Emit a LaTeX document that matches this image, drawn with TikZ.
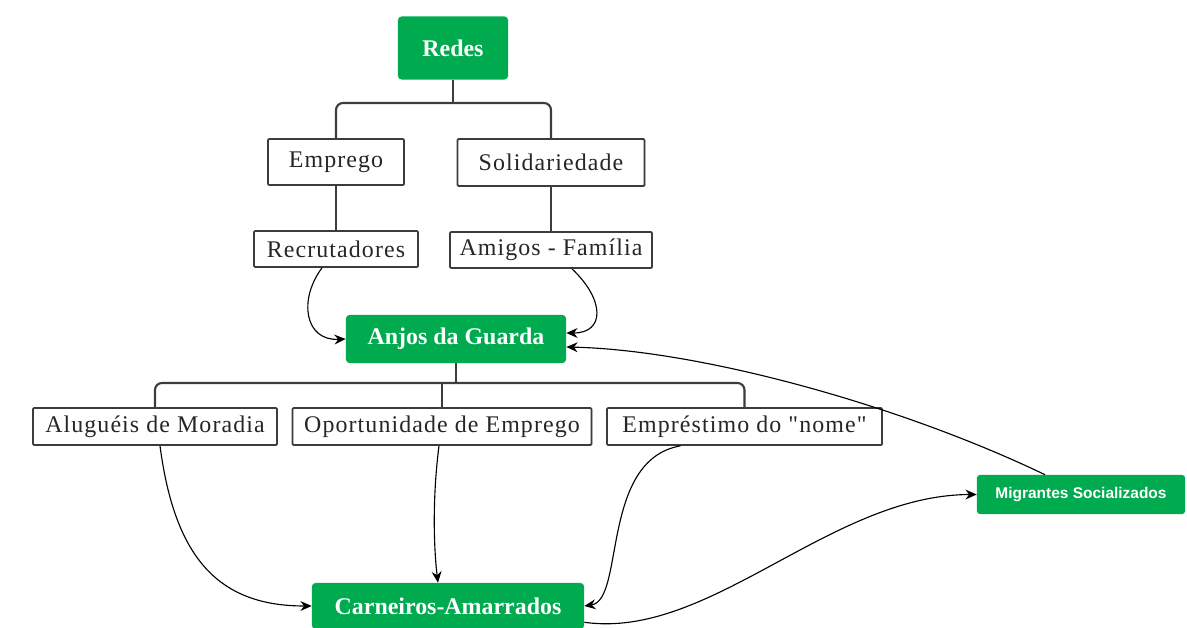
\documentclass[tikz,border=0pt]{standalone}
\usepackage{fontspec}
\setmainfont{Liberation Serif}
\newfontfamily\espacada[LetterSpace=4.6]{Liberation Serif}
\newfontfamily\semserifa{Liberation Sans}
\usetikzlibrary{arrows.meta,shadows,calc}
\definecolor{verde}{RGB}{0,171,80}
\definecolor{borda}{RGB}{60,60,60}
\tikzset{
  caixa/.style={draw=borda, line width=1.2pt, fill=white, text=black!85, inner sep=0pt,
    rounded corners=0.8pt, font=\espacada\fontsize{17}{20}\selectfont,
    drop shadow={shadow xshift=0.6pt, shadow yshift=-0.6pt, fill=black!45}},
  destaque/.style={fill=verde, text=white, inner sep=0pt, rounded corners=2.5pt,
    font=\bfseries\fontsize{17}{20}\selectfont},
  ramo/.style={draw=borda, line width=1.5pt, rounded corners=5pt},
  seta/.style={-{Stealth[length=8pt,width=7pt]}, line width=0.8pt, black},
}
\begin{document}
\begin{tikzpicture}[x=0.025cm, y=-0.025cm]
  \useasboundingbox (0,0) rectangle (1187,628);

  % Redes e ramos de cima
  \node[destaque, minimum width=2.75cm, minimum height=1.575cm] (redes) at (453,48) {Redes};
  \node[caixa, minimum width=3.4cm, minimum height=1.15cm] (emprego) at (336,162) {Emprego};
  \node[caixa, minimum width=4.675cm, minimum height=1.175cm] (solid) at (551,162.5) {Solidariedade};
  \node[caixa, minimum width=4.1cm, minimum height=0.9cm] (recrut) at (336,249) {Recrutadores};
  \node[caixa, minimum width=5.05cm, minimum height=0.9cm] (amigos) at (551,250) {Amigos - Família};

  \coordinate (garfo1) at (453,103);
  \draw[ramo] (redes.south) -- (garfo1);
  \draw[ramo] (emprego.north) |- (garfo1) -| (solid.north);
  \draw[ramo] (emprego.south) -- (recrut.north);
  \draw[ramo] (solid.south) -- (amigos.north);

  % Anjos da Guarda
  \node[destaque, minimum width=5.5cm, minimum height=1.2cm] (anjos) at (456,339) {Anjos da Guarda};
  \node[caixa, minimum width=6.1cm, minimum height=0.925cm] (alugueis) at (155,426.5) {Aluguéis de Moradia};
  \node[caixa, minimum width=7.475cm, minimum height=0.925cm] (oport) at (442,426.5) {Oportunidade de Emprego};
  \node[caixa, minimum width=6.875cm, minimum height=0.925cm] (emprest) at (744.5,426.5) {Empréstimo do "nome"};

  \coordinate (garfo2) at (456,383);
  \draw[ramo] (anjos.south) -- (garfo2);
  \draw[ramo] (alugueis.north) |- (garfo2) -| (emprest.north);
  \draw[ramo] (oport.north) -- (oport.north |- garfo2);

  % Carneiros e migrantes
  \node[destaque, minimum width=6.8cm, minimum height=1.15cm] (carneiros) at (448,606) {Carneiros-Amarrados};
  \node[destaque, font=\semserifa\bfseries\fontsize{11}{13}\selectfont, rounded corners=2pt,
    minimum width=5.2cm, minimum height=0.975cm] (migrantes) at (1081,494.5) {Migrantes Socializados};

  % Setas
  \draw[seta] ($(recrut.south)+(-14,0)$) .. controls (298,300) and (305,341) .. (anjos.west);
  \draw[seta] ($(amigos.south)+(21,0)$) .. controls (605,300) and (605,333) .. ($(anjos.east)+(0,-6)$);
  \draw[seta] ($(migrantes.north)+(-36,0)$) .. controls (900,405) and (700,350) .. ($(anjos.east)+(0,8)$);
  \draw[seta] ($(alugueis.south)+(5,0)$) .. controls (175,560) and (220,606) .. (carneiros.west);
  \draw[seta] ($(oport.south)+(-3,0)$) .. controls (432,500) and (434,550) .. ($(oport.south |- carneiros.north)+(-4,0)$);
  \draw[seta] ($(emprest.south)+(-64,0)$) .. controls (600,460) and (625,600) .. (carneiros.east);
  \draw[seta] ($(carneiros.south east)+(0,-7)$) .. controls (710,640) and (830,495) .. (migrantes.west);
\end{tikzpicture}
\end{document}
